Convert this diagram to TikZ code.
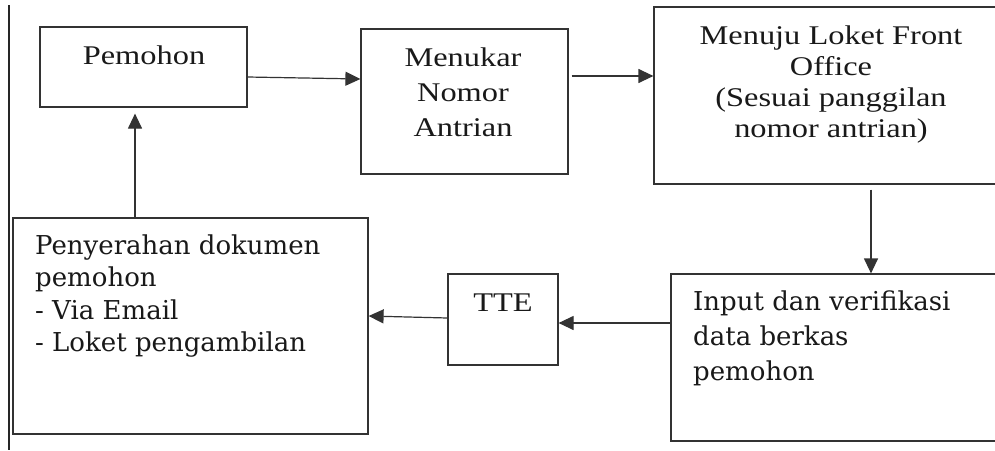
\documentclass[tikz,border=0pt]{standalone}
\usepackage{fontspec}
\setmainfont{Liberation Serif}
\newfontfamily\cambfont[FakeStretch=1.2]{Liberation Serif}
\newfontfamily\bookfont{DejaVu Serif}
\usetikzlibrary{arrows.meta}
\begin{document}
\begin{tikzpicture}[x=1pt,y=-1pt,
  box/.style={draw=black!80, line width=1.2pt, rectangle, inner sep=0pt},
  arr/.style={draw=black!80, line width=1.2pt, -{Triangle[length=15pt,width=14pt]}},
  camb/.style={font=\cambfont\fontsize{27}{31}\selectfont, text=black!90, inner sep=0pt, align=center},
  book/.style={font=\bookfont\fontsize{26}{35}\selectfont, text=black!90, inner sep=0pt, align=left}]
\clip (0,0) rectangle (995,450);
\fill[white] (0,0) rectangle (995,450);
% left border line
\draw[black!85, line width=1.2pt] (9,5) -- (9,450);
% boxes
\node[box, minimum width=207pt, minimum height=80pt] (pem) at (143.5,67) {};
\node[box, minimum width=207pt, minimum height=145pt] (men) at (464.5,101.5) {};
\node[box, minimum width=351pt, minimum height=177pt] (menuju) at (829.5,95.5) {};
\node[box, minimum width=334pt, minimum height=167pt] (input) at (838,357.5) {};
\node[box, minimum width=110pt, minimum height=91pt] (tte) at (503,319.5) {};
\node[box, minimum width=355pt, minimum height=216pt] (peny) at (190.5,326) {};
% texts (anchor base = baseline of the last line)
\node[camb, anchor=base] (tpem) at (144,64) {Pemohon};
\node[camb, anchor=base, font=\cambfont\fontsize{27}{35}\selectfont] (tmen) at (463,136) {Menukar\\Nomor\\Antrian};
\node[camb, anchor=base] (tmenuju) at (831,137) {Menuju Loket Front\\Office\\(Sesuai panggilan\\nomor antrian)};
\node[camb, anchor=base] (ttte) at (503,311) {TTE};
\node[book, anchor=base west] (tinput) at (693,380) {Input dan verifikasi\\data berkas\\pemohon};
\node[book, anchor=base west, font=\bookfont\fontsize{26}{32.5}\selectfont] (tpeny) at (35,351.5) {Penyerahan dokumen\\pemohon\\- Via Email\\- Loket pengambilan};
% connectors
\draw[arr] ([yshift=-10pt]pem.east) -- ([yshift=22.5pt]men.west);
\draw[arr] ([xshift=3pt,yshift=25.5pt]men.east) -- ([yshift=19.5pt]menuju.west);
\coordinate (c1) at ([xshift=41.5pt,yshift=-5pt]menuju.south);
\draw[arr] (c1) -- (c1 |- input.north);
\draw[arr] ([yshift=34.5pt]input.west) -- ([yshift=-3.5pt]tte.east);
\draw[arr] ([yshift=1.5pt]tte.west) -- ([yshift=10pt]peny.east);
\coordinate (c2) at ([xshift=-55.5pt]peny.north);
\draw[arr, shorten >=6pt] (c2) -- (c2 |- pem.south);
\end{tikzpicture}
\end{document}
